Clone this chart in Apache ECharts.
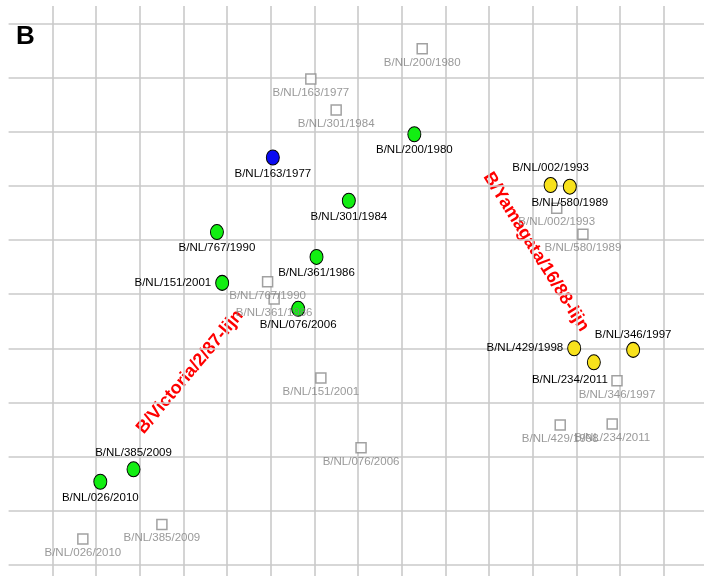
<!DOCTYPE html>
<html>
<head>
<meta charset="utf-8">
<script src="https://cdn.jsdelivr.net/npm/echarts@6/dist/echarts.min.js"></script>
<style>
    html, body { margin: 0; padding: 0; background: #fff; }
    #chart { width: 704px; height: 576px; }
</style>
</head>
<body>
<div id="chart"></div>
<script>
// antigenic map units (1 unit = 1 grid cell)
const virusNames = ['B/NL/163/1977', 'B/NL/200/1980', 'B/NL/301/1984', 'B/NL/767/1990', 'B/NL/361/1986',
    'B/NL/151/2001', 'B/NL/076/2006', 'B/NL/385/2009', 'B/NL/026/2010',
    'B/NL/002/1993', 'B/NL/580/1989', 'B/NL/429/1998', 'B/NL/234/2011', 'B/NL/346/1997']
const virusX = [5.05, 8.29, 6.79, 3.77, 6.05, 3.89, 5.63, 1.86, 1.10, 11.41, 11.85, 11.95, 12.40, 13.30]
const virusY = [7.53, 7.96, 6.73, 6.15, 5.69, 5.21, 4.73, 1.76, 1.53, 7.02, 6.99, 4.00, 3.74, 3.97]
const virusLineage = ['ref', 'vic', 'vic', 'vic', 'vic', 'vic', 'vic', 'vic', 'vic',
    'yam', 'yam', 'yam', 'yam', 'yam']

const serumNames = ['B/NL/200/1980', 'B/NL/163/1977', 'B/NL/301/1984', 'B/NL/002/1993', 'B/NL/580/1989',
    'B/NL/767/1990', 'B/NL/361/1986', 'B/NL/151/2001', 'B/NL/076/2006', 'B/NL/385/2009',
    'B/NL/026/2010', 'B/NL/346/1997', 'B/NL/429/1998', 'B/NL/234/2011']
const serumX = [8.47, 5.92, 6.50, 11.55, 12.15, 4.93, 5.08, 6.15, 7.07, 2.51, 0.70, 12.93, 11.63, 12.82]
const serumY = [9.54, 8.98, 8.41, 6.59, 6.11, 5.23, 4.91, 3.45, 2.16, 0.74, 0.47, 3.40, 2.58, 2.60]

const lineageColor = { ref: '#0a0af0', vic: '#12ee12', yam: '#f8e21c' }
// where the label sits for some viruses (default is below)
const virusLabelPos = {
    'B/NL/151/2001': { position: 'left', distance: 4 },
    'B/NL/429/1998': { position: 'left', distance: 4 },
    'B/NL/385/2009': { position: 'top', distance: 2 },
    'B/NL/002/1993': { position: 'top', distance: 3 },
    'B/NL/346/1997': { position: 'top', distance: 1 },
    'B/NL/234/2011': { position: 'bottom', distance: 3, offset: [-24, 0] }
}

const fontFamily = '"Liberation Sans", Arial, sans-serif'

const virusData = virusNames.map((name, i) => {
    const item = {
        name: name,
        value: [virusX[i], virusY[i]],
        itemStyle: { color: lineageColor[virusLineage[i]] }
    }
    if (virusLabelPos[name]) item.label = virusLabelPos[name]
    return item
})
const serumData = serumNames.map((name, i) => ({ name: name, value: [serumX[i], serumY[i]] }))

const chart = echarts.init(document.getElementById('chart'))
const option = {
    animation: false,
    grid: { left: 8.6, top: 6, width: 698.8, height: 612.5, outerBoundsMode: 'none', containLabel: false },
    xAxis: {
        type: 'value', min: -1, max: 15, interval: 1,
        axisLine: { show: false }, axisTick: { show: false }, axisLabel: { show: false },
        splitLine: { show: true, showMinLine: false, showMaxLine: false, lineStyle: { color: '#cacaca', width: 1.6 } }
    },
    yAxis: {
        type: 'value', min: -1, max: 10.333, interval: 1,
        axisLine: { show: false }, axisTick: { show: false }, axisLabel: { show: false },
        splitLine: { show: true, showMinLine: false, showMaxLine: false, lineStyle: { color: '#cacaca', width: 1.6 } }
    },
    series: [
        {
            name: 'sera',
            type: 'scatter',
            symbol: 'rect',
            symbolSize: 10,
            data: serumData,
            itemStyle: { color: '#fff', borderColor: '#8a8a8a', borderWidth: 1.5 },
            label: {
                show: true, position: 'bottom', distance: 2,
                formatter: '{b}', color: '#808080', fontSize: 11.5, fontFamily: fontFamily
            }
        },
        {
            name: 'viruses',
            type: 'scatter',
            symbol: 'circle',
            symbolSize: [13, 15],
            data: virusData,
            itemStyle: { borderColor: '#000', borderWidth: 1, opacity: 1 },
            label: {
                show: true, position: 'bottom', distance: 2,
                formatter: '{b}', color: '#000', fontSize: 11.5, fontFamily: fontFamily
            }
        }
    ],
    graphic: [
        {
            type: 'text', left: 16, top: 24,
            style: { text: 'B', fontSize: 26, fontWeight: 'bold', fill: '#000', fontFamily: fontFamily }
        },
        {
            type: 'text', x: 190, y: 372, rotation: 50 * Math.PI / 180,
            style: {
                text: 'B/Victoria/2/87-lijn', fontSize: 18, fontWeight: 'bold', fill: '#ff0000',
                fontFamily: fontFamily, align: 'center', verticalAlign: 'middle'
            }
        },
        {
            type: 'text', x: 536, y: 252, rotation: -58 * Math.PI / 180,
            style: {
                text: 'B/Yamagata/16/88-lijn', fontSize: 18, fontWeight: 'bold', fill: '#ff0000',
                fontFamily: fontFamily, align: 'center', verticalAlign: 'middle'
            }
        }
    ]
}
chart.setOption(option)
</script>
</body>
</html>
